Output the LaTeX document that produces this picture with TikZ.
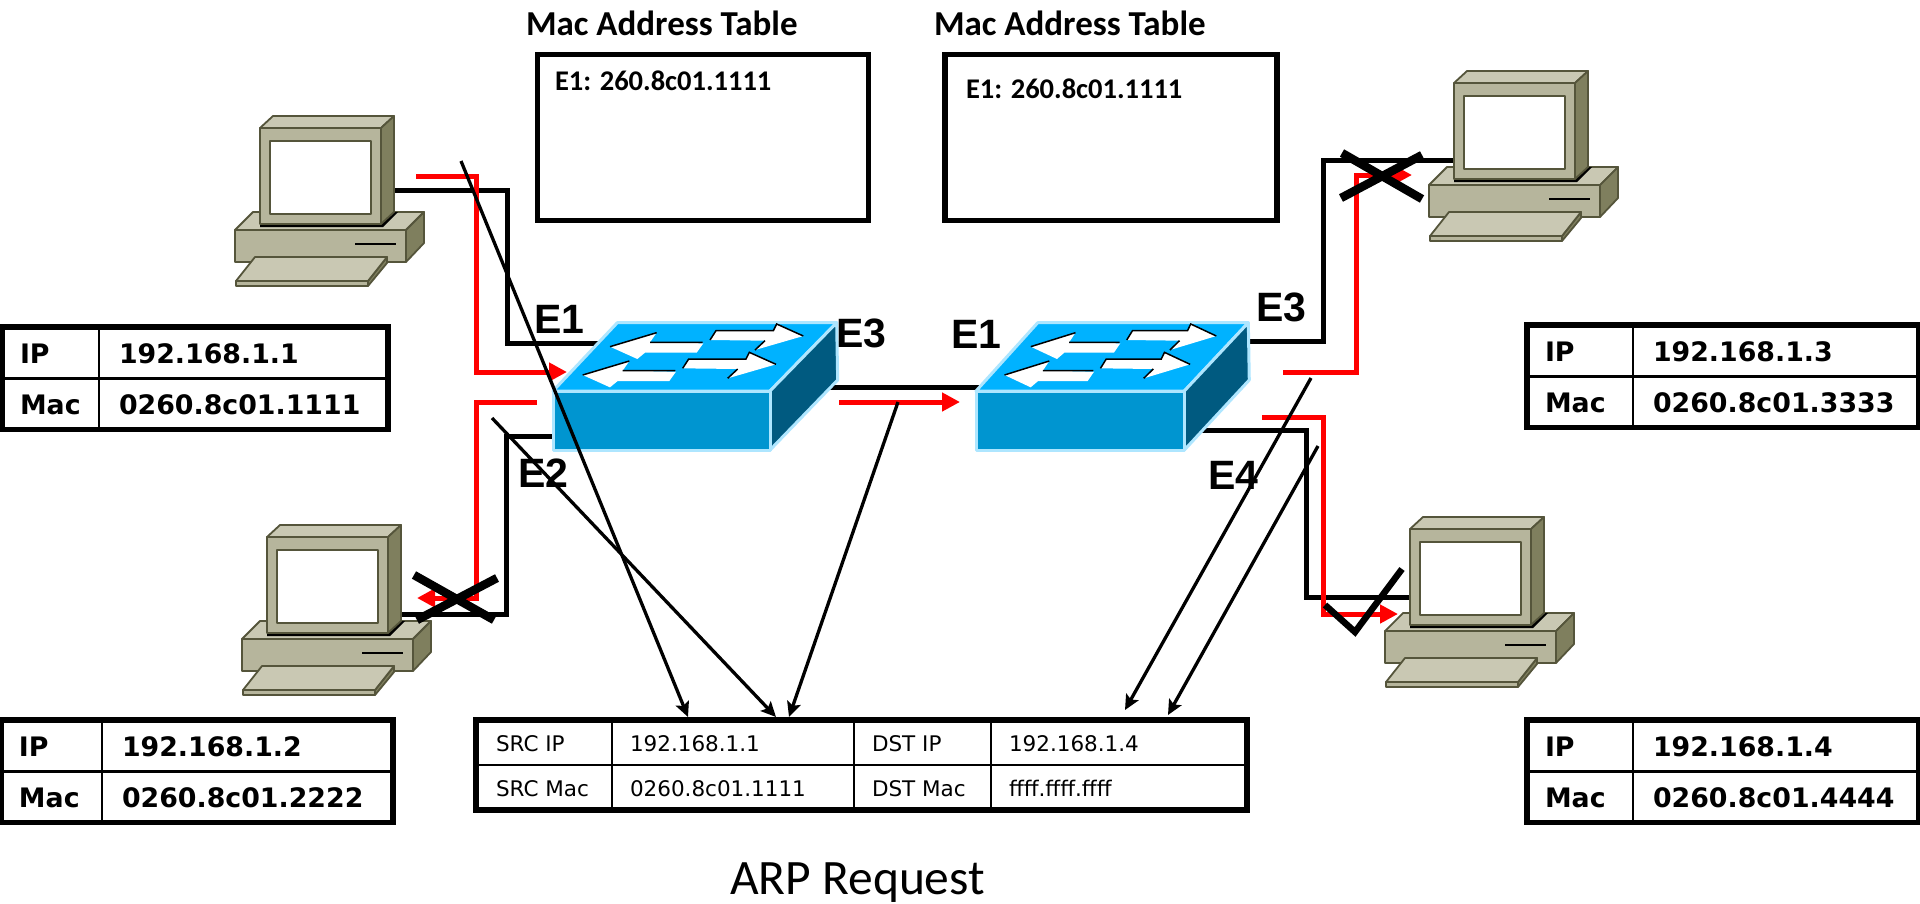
\documentclass[tikz,border=0pt]{standalone}
\usepackage{fontspec}
\usetikzlibrary{arrows.meta,calc}
\newfontfamily\gillish{Carlito}
\newfontfamily\verdish{DejaVu Sans}
\setmainfont{Liberation Sans}
\definecolor{pcfront}{HTML}{B6B59C}
\definecolor{pctop}{HTML}{C9C8B3}
\definecolor{pcside}{HTML}{7F7F5E}
\definecolor{pcline}{HTML}{55553B}
\definecolor{swtop}{HTML}{00B2FF}
\definecolor{swfront}{HTML}{0095D0}
\definecolor{swside}{HTML}{005A80}
\definecolor{swedge}{HTML}{AEE6FF}
\newcommand\fs[1]{\fontsize{#1}{#1}\selectfont}
\tikzset{
  wire/.style={line width=5pt,black,line join=miter},
  redwire/.style={line width=5pt,red,line join=miter,-{Triangle[length=18pt,width=18pt]}},
  thinarrow/.style={line width=3.3pt,black,-{Stealth[length=15pt,width=14pt,inset=3pt]}},
  crossbar/.style={line width=8.5pt,black},
  checkbar/.style={line width=6.5pt,black,line join=miter},
  tablebox/.style={draw=black,line width=5.5pt,anchor=north west,inner sep=0pt,outer sep=0pt,fill=white},
  boxlabel/.style={anchor=base west,inner sep=0pt,outer sep=0pt},
  pc part/.style={draw=pcline,line width=1.8pt,line join=round},
  sw part/.style={draw=swedge,line width=3pt,line join=round},
  pics/pcicon/.style={code={
    \filldraw[pc part,fill=pctop] (-25,102) -- (-7,84) -- (164,84) -- (146,102) -- cycle;
    \filldraw[pc part,fill=pcside] (146,102) -- (164,84) -- (164,115) -- (146,134) -- cycle;
    \filldraw[pc part,fill=pcfront] (-25,102) rectangle (146,134);
    \draw[line width=2.2pt,black] (95,116) -- (136,116);
    \filldraw[pc part,fill=pcside] (108,153) -- (127,129) -- (127,135) -- (108,158) -- cycle;
    \filldraw[pc part,fill=pcfront] (-24,153) rectangle (108,158);
    \filldraw[pc part,fill=pctop] (-5,129) -- (127,129) -- (108,153) -- (-24,153) -- cycle;
    \fill[black] (0,96) -- (0,99) -- (123,99) -- (138,84) -- (130,84) -- cycle;
    \filldraw[pc part,fill=pctop] (0,0) -- (13,-12) -- (134,-12) -- (121,0) -- cycle;
    \filldraw[pc part,fill=pcside] (121,0) -- (134,-12) -- (134,84) -- (121,96) -- cycle;
    \filldraw[pc part,fill=pcfront] (0,0) rectangle (121,96);
    \filldraw[pc part,fill=white] (10,13) rectangle (111,86);
  }},
  pics/swicon/.style={code={
    \begin{scope}[x=0.33333pt,y=-0.33333pt,shift={(-159,-333)}]
      \filldraw[sw part,fill=swtop] (159,333) -- (352,128) -- (1010,128) -- (810,333) -- cycle;
      \filldraw[sw part,fill=swside] (810,333) -- (1010,128) -- (1013,300) -- (810,510) -- cycle;
      \filldraw[sw part,fill=swfront] (159,333) rectangle (810,510);
      \foreach \dx/\dy in {0/0,-82/85}{
        \begin{scope}[shift={(\dx,\dy)}]
          \fill[white] (330,200) -- (470,158) -- (450,187) -- (610,190) -- (590,218) -- (435,218) -- (412,237) -- cycle;
          \draw[black,line width=1.5pt] (330,200) -- (470,158) (450,187) -- (608,187);
          \fill[white] (630,180) -- (648,152) -- (820,152) -- (830,132) -- (910,168) -- (765,210) -- (795,182) -- cycle;
          \draw[black,line width=1.5pt] (630,180) -- (648,152) -- (820,152) -- (830,132) -- (910,168);
          \draw[black,line width=1.5pt] (765,210) -- (795,182);
        \end{scope}
      }
    \end{scope}
  }},
}
% name, x, y, width, divider offset, ip, mac
\newcommand\addrtable[7]{
  \node[tablebox,minimum width=#4pt,minimum height=102.5pt] (#1) at (#2,#3) {};
  \draw[line width=2.6pt] (#1.west) -- (#1.east);
  \draw[line width=2.6pt] ($(#1.north west)+(#5,0)$) -- ($(#1.south west)+(#5,0)$);
  \node[boxlabel] (#1ipk) at ($(#1.north west)+(18,36.5)$) {\verdish\bfseries\fs{26.8}IP};
  \node[boxlabel] (#1mack) at ($(#1.north west)+(18,87.5)$) {\verdish\bfseries\fs{26.8}Mac};
  \node[boxlabel] (#1ipv) at ($(#1.north west)+(#5+20,36.5)$) {\verdish\bfseries\fs{26.8}#6};
  \node[boxlabel] (#1macv) at ($(#1.north west)+(#5+20,87.5)$) {\verdish\bfseries\fs{26.8}#7};
}
\begin{document}
\begin{tikzpicture}[x=1pt,y=-1pt]
\useasboundingbox (0,0) rectangle (1920,903);
\fill[white] (0,0) rectangle (1920,903);

% named ends of the connectors
\coordinate (pcAport) at (381,190);
\coordinate (bendA1) at (507,190);
\coordinate (bendA2) at (507,343);
\coordinate (swAe1) at (600,343);
\coordinate (pcBport) at (388,614);
\coordinate (bendB1) at (506,614);
\coordinate (bendB2) at (506,436);
\coordinate (swAe2) at (560,436);
\coordinate (swAe3) at (770,387);
\coordinate (swBe1) at (1000,387);
\coordinate (swBe3) at (1200,341);
\coordinate (bendC1) at (1323,341);
\coordinate (bendC2) at (1323,160);
\coordinate (pcCport) at (1460,160);
\coordinate (swBe4) at (1190,430);
\coordinate (bendD1) at (1306,430);
\coordinate (bendD2) at (1306,597);
\coordinate (pcDport) at (1416,597);

% wires behind the devices
\draw[wire] (pcAport) -- (bendA1) -- (bendA2) -- (swAe1);
\draw[wire] (pcBport) -- (bendB1) -- (bendB2) -- (swAe2);
\draw[wire] (swAe3) -- (swBe1);
\draw[wire] (swBe3) -- (bendC1) -- (bendC2) -- (pcCport);
\draw[wire] (swBe4) -- (bendD1) -- (bendD2) -- (pcDport);

% devices
\pic at (260,128) {pcicon};
\pic at (267,537) {pcicon};
\pic at (1454,83) {pcicon};
\pic at (1410,529) {pcicon};
\pic at (553,391) {swicon};
\pic[xscale=0.96] at (976,391) {swicon};

% mac tables
\node[tablebox,minimum width=331pt,minimum height=166pt] (macA) at (537.5,54.5) {};
\node[tablebox,minimum width=332pt,minimum height=166pt] (macB) at (945,54.5) {};
\node[boxlabel] (macAt) at (526,35) {\gillish\bfseries\fs{35}Mac Address Table};
\node[boxlabel] (macBt) at (934,35) {\gillish\bfseries\fs{35}Mac Address Table};
\node[boxlabel] (macAe) at (555,90) {\gillish\bfseries\fs{28.5}E1: 260.8c01.1111};
\node[boxlabel] (macBe) at (966,98) {\gillish\bfseries\fs{28.5}E1: 260.8c01.1111};

% address tables
\addrtable{ipA}{2}{327}{386}{97}{192.168.1.1}{0260.8c01.1111}
\addrtable{ipB}{1}{720}{392}{101}{192.168.1.2}{0260.8c01.2222}
\addrtable{ipC}{1527}{325}{392}{106}{192.168.1.3}{0260.8c01.3333}
\addrtable{ipD}{1527}{720}{392}{106}{192.168.1.4}{0260.8c01.4444}

% packet table
\node[tablebox,minimum width=771pt,minimum height=90pt] (pkt) at (476,720) {};
\draw[line width=2.6pt] (pkt.west) -- (pkt.east);
\draw[line width=2.6pt] (612,720) -- (612,810);
\draw[line width=2.6pt] (854,720) -- (854,810);
\draw[line width=2.6pt] (991,720) -- (991,810);
\node[boxlabel] (p1) at (496,751) {\verdish\fs{21.5}SRC IP};
\node[boxlabel] (p2) at (630,751) {\verdish\fs{21.5}192.168.1.1};
\node[boxlabel] (p3) at (872,751) {\verdish\fs{21.5}DST IP};
\node[boxlabel] (p4) at (1009,751) {\verdish\fs{21.5}192.168.1.4};
\node[boxlabel] (p5) at (496,796) {\verdish\fs{21.5}SRC Mac};
\node[boxlabel] (p6) at (630,796) {\verdish\fs{21.5}0260.8c01.1111};
\node[boxlabel] (p7) at (872,796) {\verdish\fs{21.5}DST Mac};
\node[boxlabel] (p8) at (1009,796) {\verdish\fs{21.5}ffff.ffff.ffff};

\node[boxlabel] (title) at (730,894) {\gillish\fs{49.5}ARP Request};

% port labels
\node[boxlabel] (l1) at (534,333) {\bfseries\fs{41}E1};
\node[boxlabel] (l2) at (518,487) {\bfseries\fs{41}E2};
\node[boxlabel] (l3) at (836,347) {\bfseries\fs{41}E3};
\node[boxlabel] (l4) at (951,348) {\bfseries\fs{41}E1};
\node[boxlabel] (l5) at (1256,321) {\bfseries\fs{41}E3};
\node[boxlabel] (l6) at (1208,489) {\bfseries\fs{41}E4};

% flooded frame
\coordinate (rA0) at (416,176);
\coordinate (rA1) at (476,176);
\coordinate (rA2) at (476,372);
\coordinate (rAt) at (567,372);
\draw[redwire] (rA0) -- (rA1) -- (rA2) -- (rAt);
\coordinate (rB0) at (537,402);
\coordinate (rB1) at (476,402);
\coordinate (rB2) at (476,598);
\coordinate (rBt) at (417,598);
\draw[redwire] (rB0) -- (rB1) -- (rB2) -- (rBt);
\coordinate (rM0) at (839,402);
\coordinate (rMt) at (960,402);
\draw[redwire] (rM0) -- (rMt);
\coordinate (rC0) at (1283,372);
\coordinate (rC1) at (1356,372);
\coordinate (rC2) at (1356,175);
\coordinate (rCt) at (1412,175);
\draw[redwire] (rC0) -- (rC1) -- (rC2) -- (rCt);
\coordinate (rD0) at (1262,417);
\coordinate (rD1) at (1323,417);
\coordinate (rD2) at (1323,614);
\coordinate (rDt) at (1398,614);
\draw[redwire] (rD0) -- (rD1) -- (rD2) -- (rDt);

% crosses and check
\coordinate (xa1) at (414,575); \coordinate (xa2) at (494,620);
\coordinate (xa3) at (497,578); \coordinate (xa4) at (417,620);
\draw[crossbar] (xa1) -- (xa2);
\draw[crossbar] (xa3) -- (xa4);
\coordinate (xb1) at (1342,153); \coordinate (xb2) at (1422,199);
\coordinate (xb3) at (1341,198); \coordinate (xb4) at (1422,155);
\draw[crossbar] (xb1) -- (xb2);
\draw[crossbar] (xb3) -- (xb4);
\coordinate (ck1) at (1325,605); \coordinate (ck2) at (1355,632); \coordinate (ck3) at (1402,569);
\draw[checkbar] (ck1) -- (ck2) -- (ck3);

% pointers to the packet table
\coordinate (tipA) at (688,717);
\coordinate (tipB) at (776,717);
\coordinate (tipC) at (789,717);
\coordinate (tipD) at (1125,710);
\coordinate (tipE) at (1168,715);
\coordinate (ptrA) at (461,161);
\coordinate (ptrB) at (492,418);
\coordinate (ptrC) at (898,402);
\coordinate (ptrD) at (1311,378);
\coordinate (ptrE) at (1318,446);
\draw[thinarrow] (ptrA) -- (tipA);
\draw[thinarrow] (ptrB) -- (tipB);
\draw[thinarrow] (ptrC) -- (tipC);
\draw[thinarrow] (ptrD) -- (tipD);
\draw[thinarrow] (ptrE) -- (tipE);
\end{tikzpicture}
\end{document}
